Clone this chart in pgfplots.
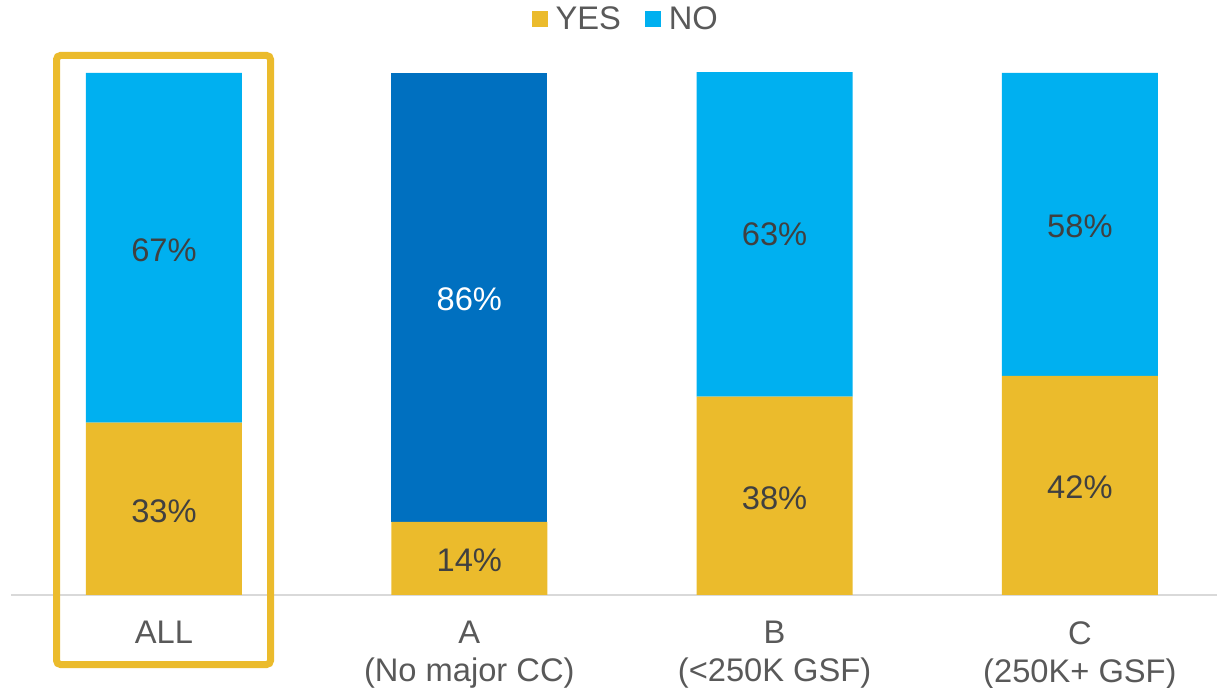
\documentclass[border=0pt]{standalone}
\usepackage{fontspec}
\setmainfont{Liberation Sans}
\usepackage{pgfplots}
\usepackage{pgfplotstable}
\pgfplotsset{compat=1.18}
\definecolor{yesyellow}{HTML}{EBBB2C}
\definecolor{nolight}{HTML}{00B0F0}
\definecolor{nodark}{HTML}{0070C0}
\definecolor{labelgray}{HTML}{595959}
\definecolor{valuegray}{HTML}{404040}
\definecolor{basegray}{HTML}{D9D9D9}
\newcommand{\chartfont}{\fontsize{24.5}{28.5}\selectfont}

% shares in percent; the "No major CC" group is drawn in dark blue
\pgfplotstableread{
x yes nolight nodark
0 33  67      0
1 14  0       86
2 38  63      0
3 42  58      0
}\votes

\pgfplotsset{
  panel/.style={
    at={(8.25pt,69.75pt)}, anchor=south west,
    scale only axis, width=904.5pt, height=391.5pt,
    xmin=-0.501, xmax=3.449, ymin=0, ymax=100,
  },
  valuelabel/.style={
    draw=none, mark=none, nodes near coords,
    nodes near coords={\pgfmathprintnumber{\pgfplotspointmeta}\%},
    every node near coord/.append style={anchor=center, font=\chartfont,
      text=#1, yshift=-1.5pt},
  },
}

\begin{document}
\begin{tikzpicture}[x=1pt,y=1pt]
\useasboundingbox (0,0) rectangle (912.75,516);
% baseline under the bars
\draw[basegray, line width=1.5pt] (8.25,69.75) -- (912.75,69.75);
\begin{axis}[
  panel,
  ybar stacked, bar width=117pt,
  axis line style={draw=none},
  ytick=\empty,
  xtick={0,1,2,3},
  xticklabels={ALL, A\\(No major CC), B\\(<250K GSF), C\\(250K+ GSF)},
  major tick length=0pt,
  xticklabel style={align=center, text=labelgray, font=\chartfont,
    anchor=north, inner sep=0pt, yshift=-19.5pt},
  legend columns=2,
  legend style={at={(0.51,1.103)}, anchor=center, draw=none, fill=none,
    font=\chartfont, text=labelgray,
    /tikz/every even column/.append style={column sep=16pt}},
  legend image code/.code={\fill[#1] (0pt,-6pt) rectangle (12pt,6pt);
    \path (16pt,0pt);},
]
\addplot[fill=yesyellow, draw=none] table[x=x, y=yes] \votes;
\addplot[fill=nolight, draw=none] table[x=x, y=nolight] \votes;
\addplot[fill=nodark, draw=none, forget plot] table[x=x, y=nodark] \votes;
\legend{YES, NO}
\end{axis}
% value labels in the middle of each segment
\begin{axis}[panel, hide axis, /pgf/number format/assume math mode=true]
\addplot[valuelabel=valuegray, point meta=\thisrow{yes}]
  table[x=x, y expr=\thisrow{yes}/2] \votes;
\addplot[valuelabel=valuegray, point meta=\thisrow{nolight},
  skip coords between index={1}{2}]
  table[x=x, y expr=\thisrow{yes}+\thisrow{nolight}/2] \votes;
\addplot[valuelabel=white, point meta=\thisrow{nodark},
  restrict x to domain=0.5:1.5]
  table[x=x, y expr=\thisrow{yes}+\thisrow{nodark}/2] \votes;
\end{axis}
% frame around the ALL column
\draw[yesyellow, line width=5.25pt, rounded corners=3pt]
  (42.4,17.6) rectangle (202.9,474.4);
\end{tikzpicture}
\end{document}
